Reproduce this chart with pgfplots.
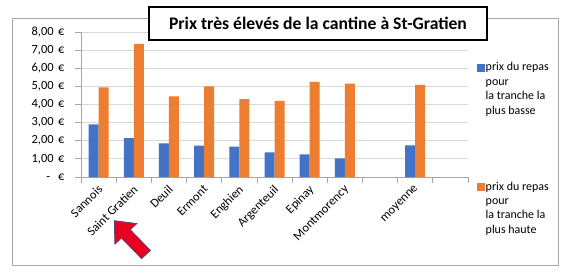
\documentclass[border=0pt]{standalone}
\usepackage{pgfplots}
\pgfplotsset{compat=1.18}
\usepackage{fontspec}
\setmainfont{Carlito}
\definecolor{xblue}{HTML}{4472C4}
\definecolor{xorange}{HTML}{ED7D31}
\definecolor{gridc}{HTML}{D9D9D9}
\definecolor{axc}{HTML}{A6A6A6}
\definecolor{arrowred}{HTML}{E8001F}
\definecolor{arrowedge}{HTML}{5B3F7F}
\begin{document}
\begin{tikzpicture}[x=1bp,y=1bp]
\useasboundingbox (0,0) rectangle (567,277);
\fill[white] (0,0) rectangle (567,277);
\draw[draw=gray!70, line width=0.8bp] (12,12) rectangle (558,259);
\begin{axis}[
  at={(81bp,100bp)}, anchor=south west,
  scale only axis, width=387bp, height=145bp,
  ybar=0pt, bar width=10bp,
  xmin=-0.5, xmax=10.5, ymin=0, ymax=8,
  axis x line=bottom, axis y line=left,
  axis line style={-, draw=axc, line width=0.8bp},
  tick align=outside, major tick length=6bp,
  tick style={draw=axc, line width=0.8bp},
  ytick={0,1,...,8},
  yticklabels={{-\hspace{8bp}€},{1,00\hspace{4.5bp}€},{2,00\hspace{4.5bp}€},{3,00\hspace{4.5bp}€},{4,00\hspace{4.5bp}€},{5,00\hspace{4.5bp}€},{6,00\hspace{4.5bp}€},{7,00\hspace{4.5bp}€},{8,00\hspace{4.5bp}€}},
  ymajorgrids, grid style={draw=gridc, line width=0.8bp},
  xtick={-0.5,0.5,...,10.5}, xticklabels={},
  extra x ticks={0,1,2,3,4,5,6,7,9},
  extra x tick labels={Sannois,Saint Gratien,Deuil,Ermont,Enghien,Argenteuil,Epinay,Montmorency,moyenne},
  extra x tick style={major tick length=0pt, grid=none},
  xticklabel style={rotate=45, anchor=north east, inner sep=1bp, xshift=-5bp, yshift=-3bp, font=\fontsize{12.5}{14}\selectfont},
  yticklabel style={font=\fontsize{12.5}{14}\selectfont, xshift=-7bp},
  legend image code/.code={\fill[#1] (0bp,-10.5bp) rectangle (8bp,-2.5bp);},
  legend style={at={(1.022,0.80)}, anchor=north west, draw=none, fill=none,
    inner sep=0pt, row sep=64bp,
    nodes={align=left, anchor=north west, inner sep=1bp, font=\fontsize{12}{14.5}\selectfont}},
]
\addplot[fill=xblue, draw=none] coordinates {(0,2.90) (1,2.14) (2,1.86) (3,1.73) (4,1.67) (5,1.36) (6,1.25) (7,1.03) (9,1.75)};
\addlegendentry{prix du repas\\pour\\la tranche la\\plus basse}
\addplot[fill=xorange, draw=none] coordinates {(0,4.95) (1,7.35) (2,4.45) (3,5.00) (4,4.30) (5,4.20) (6,5.25) (7,5.15) (9,5.08)};
\addlegendentry{prix du repas\\pour\\la tranche la\\plus haute}
\end{axis}
\node[draw=black, line width=1.3bp, fill=white, minimum width=338bp, minimum height=33bp, inner sep=0pt,
  font=\bfseries\fontsize{17.7}{20}\selectfont] at (318,253.5) {Prix très élevés de la cantine à St-Gratien};
\filldraw[fill=arrowred, draw=arrowedge, line width=0.8bp]
  (114.3,56.3) -- (136.8,53.4) -- (130.2,47.3) -- (150.4,26.6) -- (141.6,18.4) -- (121.5,39.0) -- (114.9,32.9) -- cycle;
\end{tikzpicture}
\end{document}
